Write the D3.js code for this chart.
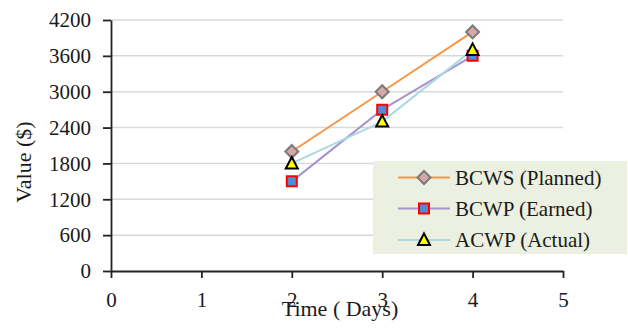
<!DOCTYPE html>
<html><head><meta charset="utf-8">
<script src="https://cdn.jsdelivr.net/npm/d3@7"></script>
<style>svg#c text{font-family:"Liberation Serif","Times New Roman",Tinos,Times !important}</style>
</head><body style="margin:0">
<svg id="c" width="628" height="334"></svg>
<script>
const days = [2, 3, 4];
const bcws = [2000, 3000, 4000];
const bcwp = [1500, 2700, 3600];
const acwp = [1800, 2500, 3700];
const seriesNames = ["BCWS (Planned)", "BCWP (Earned)", "ACWP (Actual)"];
const xTicks = [0, 1, 2, 3, 4, 5];
const yTicks = [0, 600, 1200, 1800, 2400, 3000, 3600, 4200];

const font = '"Liberation Serif", "Times New Roman", Tinos, Times';
const svg = d3.select("#c");
const x = d3.scaleLinear().domain([0, 5]).range([111, 563]);
const y = d3.scaleLinear().domain([0, 4200]).range([271, 20]);

function setFont(sel, size) {
  sel.style("font-family", font, "important").style("font-size", size + "px").attr("fill", "#1a1a1a");
}

// gridlines
svg.append("g").selectAll("line").data(yTicks.filter(d => d > 0)).join("line")
  .attr("x1", x(0)).attr("x2", x(5)).attr("y1", d => y(d)).attr("y2", d => y(d))
  .attr("stroke", "#d9d9d9").attr("stroke-width", 1.5);

// axes
const yAxis = svg.append("g").attr("transform", `translate(${x(0)},0)`)
  .call(d3.axisLeft(y).tickValues(yTicks).tickFormat(d3.format("d")).tickSize(8).tickPadding(12).tickSizeOuter(0));
const xAxis = svg.append("g").attr("transform", `translate(0,${y(0)})`)
  .call(d3.axisBottom(x).tickValues(xTicks).tickFormat(d3.format("d")).tickSize(7).tickPadding(14).tickSizeOuter(0));
[yAxis, xAxis].forEach(a => {
  a.attr("font-family", null).attr("font-size", null);
  a.select(".domain").attr("stroke", "#222").attr("stroke-width", 1.8);
  a.selectAll(".tick line").attr("stroke", "#222").attr("stroke-width", 1.8);
  setFont(a.selectAll("text"), 21);
});

// axis titles
setFont(svg.append("text").attr("transform", "translate(31,162) rotate(-90)")
  .attr("text-anchor", "middle").text("Value ($)"), 22);
setFont(svg.append("text").attr("x", 340).attr("y", 316)
  .attr("text-anchor", "middle").text("Time ( Days)"), 22);

const styles = [
  {line: "#F79646", shape: "diamond", fill: "#D9A7A7", stroke: "#7a7a7a"},
  {line: "#A993CC", shape: "square", fill: "#4F8BD6", stroke: "#FF0000"},
  {line: "#A9D9E3", shape: "triangle", fill: "#FFFF00", stroke: "#000000"}
];
const allVals = [bcws, bcwp, acwp];

function marker(g, shape, cx, cy, st) {
  let p;
  if (shape === "diamond") p = `M${cx},${cy-6.5} L${cx+6.5},${cy} L${cx},${cy+6.5} L${cx-6.5},${cy} Z`;
  else if (shape === "square") p = `M${cx-5},${cy-5} h10 v10 h-10 Z`;
  else p = `M${cx},${cy-6.5} L${cx+6},${cy+5} L${cx-6},${cy+5} Z`;
  g.append("path").attr("d", p).attr("fill", st.fill).attr("stroke", st.stroke).attr("stroke-width", 2);
}

const line = d3.line().x(d => x(d[0])).y(d => y(d[1]));
allVals.forEach((vals, i) => {
  const pts = days.map((d, j) => [d, vals[j]]);
  const g = svg.append("g");
  g.append("path").attr("d", line(pts)).attr("fill", "none")
    .attr("stroke", styles[i].line).attr("stroke-width", 2);
  pts.forEach(p => marker(g, styles[i].shape, x(p[0]), y(p[1]), styles[i]));
});

// legend
const lg = svg.append("g");
lg.append("rect").attr("x", 373).attr("y", 161).attr("width", 254).attr("height", 93)
  .attr("fill", "#EBF0E0");
const rowY = [177.5, 208.5, 240];
seriesNames.forEach((name, i) => {
  lg.append("line").attr("x1", 398).attr("x2", 450).attr("y1", rowY[i]).attr("y2", rowY[i])
    .attr("stroke", styles[i].line).attr("stroke-width", 2);
  marker(lg, styles[i].shape, 424, rowY[i], styles[i]);
  setFont(lg.append("text").attr("x", 455).attr("y", rowY[i]).attr("dy", "0.34em").text(name), 21);
});
</script>
</body></html>
